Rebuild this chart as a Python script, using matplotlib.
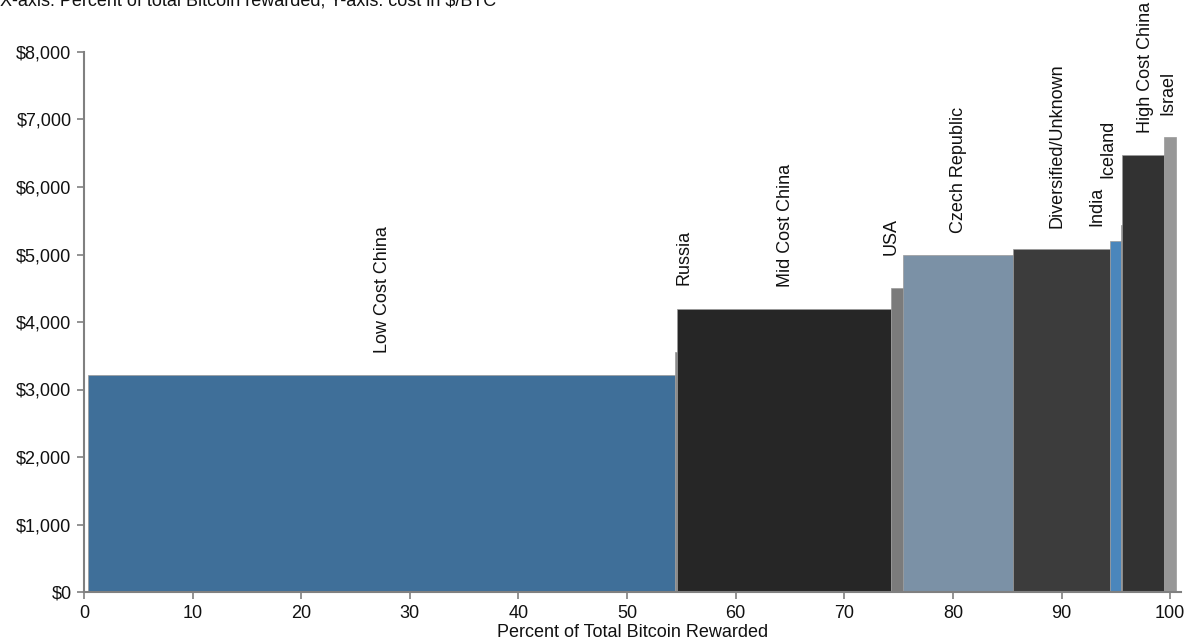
import matplotlib
matplotlib.use("Agg")
import matplotlib.pyplot as plt
from matplotlib.ticker import FuncFormatter
import numpy as np

plt.rcParams['font.family'] = ['Liberation Sans', 'DejaVu Sans']

# ---- data ----
categories = ["Low Cost China", "Russia", "Mid Cost China", "USA", "Czech Republic",
              "Diversified/Unknown", "India", "Iceland", "High Cost China", "Israel"]
share_pct = [54.0, 0.2, 19.7, 1.1, 10.1, 9.0, 1.0, 0.1, 3.8, 1.1]      # width, % of total BTC rewarded
cost_usd = [3220, 3550, 4200, 4500, 5000, 5080, 5200, 5440, 6480, 6740]  # $/BTC
x_ticks = [0, 10, 20, 30, 40, 50, 60, 70, 80, 90, 100]
y_ticks = [0, 1000, 2000, 3000, 4000, 5000, 6000, 7000, 8000]

# ---- styling / layout (not data) ----
colors = ["#3F6F99", "#8A8A8A", "#262626", "#7B7B7B", "#7B91A6",
          "#3C3C3C", "#4A86BC", "#808080", "#323232", "#979797"]
start_offset = 0.4
label_dx = [0.1, 0.7, 0.15, -0.55, 0.05, -0.4, -1.7, -1.25, 0.2, -0.15]
label_y = [3540, 4550, 4520, 4990, 5320, 5390, 5420, 6130, 6800, 7070]

W, H, DPI = 11.9, 6.43, 100
fig = plt.figure(figsize=(W, H), dpi=DPI)
ax = fig.add_axes([84 / 1190, 1 - 592 / 643, (1181 - 84) / 1190, (592 - 52) / 643])

lefts = start_offset + np.concatenate([[0], np.cumsum(share_pct)[:-1]])
ax.bar(lefts, cost_usd, width=share_pct, align='edge', color=colors,
       edgecolor='#9a9a9a', linewidth=0.5, zorder=2)

centers = lefts + np.array(share_pct) / 2
for cx, dx, ly, name in zip(centers, label_dx, label_y, categories):
    ax.text(cx + dx, ly, name, rotation=90, ha='center', va='bottom',
            fontsize=13, color='#111111')

ax.set_xlim(0, 101)
ax.set_ylim(0, 8000)
ax.set_xticks(x_ticks)
ax.set_yticks(y_ticks)
ax.yaxis.set_major_formatter(FuncFormatter(lambda v, p: f"${v:,.0f}"))

for s in ['top', 'right']:
    ax.spines[s].set_visible(False)
for s in ['left', 'bottom']:
    ax.spines[s].set_color('#808080')
    ax.spines[s].set_linewidth(1.5)
ax.tick_params(axis='both', colors='#808080', length=5, width=1.2, direction='out',
               labelsize=13, labelcolor='#111111', pad=4)

ax.set_xlabel("Percent of Total Bitcoin Rewarded", fontsize=13, color='#111111', labelpad=2)

fig.text(0.0, 1 - 5 / 643, "X-axis: Percent of total Bitcoin rewarded; Y-axis: cost in $/BTC",
         ha='left', va='baseline', fontsize=13, color='#111111')

fig.savefig("out.png", dpi=DPI)
